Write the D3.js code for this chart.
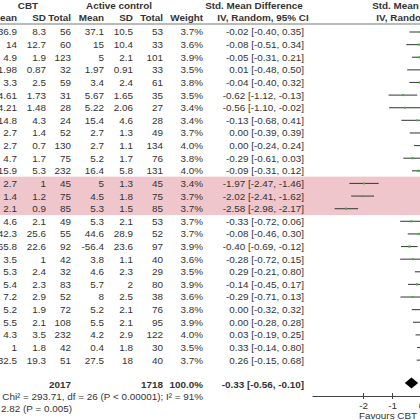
<!DOCTYPE html>
<html>
<head>
<meta charset="utf-8">
<script src="https://cdn.jsdelivr.net/npm/d3@7"></script>
<style>
  body { margin: 0; background: #fff; }
  svg { display: block; font-family: "Liberation Sans", Arial, sans-serif; }
  .num { font-size: 9.9px; fill: #333; }
  .head { font-size: 9.9px; font-weight: bold; fill: #333; }
</style>
</head>
<body>
<div id="chart"></div>
<script>
// Study data (27 studies)
var cbtMean  = [36.9, 14, 4.9, 1.98, 3.3, 4.61, 4.21, 14.8, 2.7, 2.7, 4.7, 15.9, 2.7, 1.4, 2.1, 4.6, 42.3, -65.8, 3.5, 5.3, 5.4, 7.2, 5.2, 5.5, 4.3, 1, 32.5];
var cbtSD    = [8.3, 12.7, 1.9, 0.87, 2.5, 1.73, 1.48, 4.3, 1.4, 0.7, 1.7, 5.3, 1, 1.2, 0.9, 2.1, 25.6, 22.6, 1, 2.4, 2.3, 2.9, 1.9, 2.1, 3.5, 1.8, 19.3];
var cbtTotal = [56, 60, 123, 32, 59, 31, 28, 24, 52, 130, 75, 232, 45, 75, 85, 49, 55, 92, 42, 32, 83, 52, 72, 108, 232, 42, 51];
var acMean   = [37.1, 15, 5, 1.97, 3.4, 5.67, 5.22, 15.4, 2.7, 2.7, 5.2, 16.4, 5, 4.5, 5.3, 5.3, 44.6, -56.4, 3.8, 4.6, 5.7, 8, 5.2, 5.5, 4.2, 0.4, 27.5];
var acSD     = [10.5, 10.4, 2.1, 0.91, 2.4, 1.65, 2.06, 4.6, 1.3, 1.1, 1.7, 5.8, 1.3, 1.8, 1.5, 2.1, 28.9, 23.6, 1.1, 2.3, 2, 2.5, 2.1, 2.1, 2.9, 1.8, 18];
var acTotal  = [53, 33, 101, 33, 61, 35, 27, 28, 49, 134, 76, 131, 45, 75, 85, 53, 52, 97, 40, 29, 80, 38, 76, 95, 122, 30, 40];
var weights  = [3.7, 3.6, 3.9, 3.5, 3.8, 3.5, 3.4, 3.4, 3.7, 4.0, 3.8, 4.0, 3.4, 3.7, 3.7, 3.7, 3.7, 3.9, 3.6, 3.5, 3.9, 3.6, 3.8, 3.9, 4.0, 3.5, 3.7];
var smd      = [-0.02, -0.08, -0.05, 0.01, -0.04, -0.62, -0.56, -0.13, 0.00, 0.00, -0.29, -0.09, -1.97, -2.02, -2.58, -0.33, -0.08, -0.40, -0.28, 0.29, -0.14, -0.29, 0.00, 0.00, 0.03, 0.33, 0.26];
var ciLow    = [-0.40, -0.51, -0.31, -0.48, -0.40, -1.12, -1.10, -0.68, -0.39, -0.24, -0.61, -0.31, -2.47, -2.41, -2.98, -0.72, -0.46, -0.69, -0.72, -0.21, -0.45, -0.71, -0.32, -0.28, -0.19, -0.14, -0.15];
var ciHigh   = [0.35, 0.34, 0.21, 0.50, 0.32, -0.13, -0.02, 0.41, 0.39, 0.24, 0.03, 0.12, -1.46, -1.62, -2.17, 0.06, 0.30, -0.12, 0.15, 0.80, 0.17, 0.13, 0.32, 0.28, 0.25, 0.80, 0.68];
var highlighted = [12, 13, 14];

// Pooled result
var totalCbt = 2017, totalAc = 1718, totalWeight = 100.0;
var pooled = { est: -0.33, lo: -0.56, hi: -0.10 };
var heterogeneityText = "Heterogeneity: Tau\u00b2 = 0.32; Chi\u00b2 = 293.71, df = 26 (P < 0.00001); I\u00b2 = 91%";
var overallText = "Test for overall effect: Z = 2.82 (P = 0.005)";
var axisTicks = [-2, -1, 0];

var svgWidth = 420, svgHeight = 420;

// Column right edges
var col = { cbtMean: 17, cbtSD: 46, cbtTotal: 71, acMean: 104, acSD: 133, acTotal: 163, weight: 203, ci: 304 };

var firstRow = 32, rowStep = 12.62;
var rowY = function(i) { return firstRow + i * rowStep; };
var totalY = 384.5;

var svg = d3.select("#chart").append("svg")
  .attr("width", svgWidth)
  .attr("height", svgHeight);

// highlight band behind the three flagged studies
svg.append("rect")
  .attr("x", 0)
  .attr("y", rowY(d3.min(highlighted)) - 6.8)
  .attr("width", svgWidth)
  .attr("height", (d3.max(highlighted) - d3.min(highlighted)) * rowStep + 13.2)
  .attr("fill", "#efc6cb");

// headers
svg.append("text").attr("class", "head").attr("x", 28).attr("y", 8.5).attr("text-anchor", "middle").text("CBT");
svg.append("text").attr("class", "head").attr("x", 119).attr("y", 8.5).attr("text-anchor", "middle").text("Active control");
svg.append("text").attr("class", "head").attr("x", 254).attr("y", 8.5).attr("text-anchor", "middle").text("Std. Mean Difference");
svg.append("text").attr("class", "head").attr("x", 421).attr("y", 8.5).attr("text-anchor", "middle").text("Std. Mean Difference");

var subHeads = [["Mean", col.cbtMean], ["SD", col.cbtSD], ["Total", col.cbtTotal], ["Mean", col.acMean],
                ["SD", col.acSD], ["Total", col.acTotal], ["Weight", col.weight]];
svg.selectAll("text.sub")
  .data(subHeads)
  .enter()
  .append("text")
  .attr("class", "head sub")
  .attr("x", d => d[1])
  .attr("y", 20.5)
  .attr("text-anchor", "end")
  .text(d => d[0]);
svg.append("text").attr("class", "head").attr("x", 263).attr("y", 20.5).attr("text-anchor", "middle").text("IV, Random, 95% CI");
svg.append("text").attr("class", "head").attr("x", 422).attr("y", 20.5).attr("text-anchor", "middle").text("IV, Random, 95% CI");

svg.append("line")
  .attr("x1", 0).attr("x2", svgWidth)
  .attr("y1", 24).attr("y2", 24)
  .attr("stroke", "#777").attr("stroke-width", 1);

// study rows
var columns = [
  [cbtMean, col.cbtMean], [cbtSD, col.cbtSD], [cbtTotal, col.cbtTotal],
  [acMean, col.acMean], [acSD, col.acSD], [acTotal, col.acTotal]
];
columns.forEach(function(c) {
  svg.append("g").selectAll("text")
    .data(c[0])
    .enter()
    .append("text")
    .attr("class", "num")
    .attr("x", c[1])
    .attr("y", (d, i) => rowY(i))
    .attr("dy", "0.35em")
    .attr("text-anchor", "end")
    .text(d => String(d));
});

svg.append("g").selectAll("text")
  .data(weights)
  .enter()
  .append("text")
  .attr("class", "num")
  .attr("x", col.weight)
  .attr("y", (d, i) => rowY(i))
  .attr("dy", "0.35em")
  .attr("text-anchor", "end")
  .text(d => d.toFixed(1) + "%");

var f2 = d => d.toFixed(2);
svg.append("g").selectAll("text")
  .data(smd)
  .enter()
  .append("text")
  .attr("class", "num")
  .attr("x", col.ci)
  .attr("y", (d, i) => rowY(i))
  .attr("dy", "0.35em")
  .attr("text-anchor", "end")
  .text((d, i) => f2(d) + " [" + f2(ciLow[i]) + ", " + f2(ciHigh[i]) + "]");

// total row
svg.append("text").attr("class", "head").attr("x", col.cbtTotal).attr("y", totalY).attr("dy", "0.35em")
  .attr("text-anchor", "end").text(totalCbt);
svg.append("text").attr("class", "head").attr("x", col.acTotal).attr("y", totalY).attr("dy", "0.35em")
  .attr("text-anchor", "end").text(totalAc);
svg.append("text").attr("class", "head").attr("x", col.weight).attr("y", totalY).attr("dy", "0.35em")
  .attr("text-anchor", "end").text(totalWeight.toFixed(1) + "%");
svg.append("text").attr("class", "head").attr("x", col.ci).attr("y", totalY).attr("dy", "0.35em")
  .attr("text-anchor", "end").text(f2(pooled.est) + " [" + f2(pooled.lo) + ", " + f2(pooled.hi) + "]");

// heterogeneity and overall effect lines (left part runs off the crop)
svg.append("text").attr("class", "num").attr("x", col.weight).attr("y", 396.5).attr("dy", "0.35em")
  .attr("text-anchor", "end").text(heterogeneityText);
svg.append("text").attr("class", "num").attr("x", 72).attr("y", 408.3).attr("dy", "0.35em")
  .attr("text-anchor", "end").text(overallText);

// forest plot
var xScale = d3.scaleLinear()
  .domain([-3.76, 0.5])
  .range([312, 312 + 4.26 * 29]);

var plot = svg.append("g");

plot.selectAll("line.ci")
  .data(smd)
  .enter()
  .append("line")
  .attr("class", "ci")
  .attr("x1", (d, i) => xScale(ciLow[i]))
  .attr("x2", (d, i) => xScale(ciHigh[i]))
  .attr("y1", (d, i) => rowY(i))
  .attr("y2", (d, i) => rowY(i))
  .attr("stroke", "#444")
  .attr("stroke-width", 1.1);

plot.selectAll("rect.est")
  .data(smd)
  .enter()
  .append("rect")
  .attr("class", "est")
  .attr("x", (d, i) => xScale(d) - weights[i] * 0.28)
  .attr("y", (d, i) => rowY(i) - weights[i] * 0.28)
  .attr("width", (d, i) => weights[i] * 0.56)
  .attr("height", (d, i) => weights[i] * 0.56)
  .attr("fill", "#4aa84a");

// pooled diamond
var dy = 5.6, dcy = 383;
plot.append("polygon")
  .attr("points", [
    [xScale(pooled.lo), dcy], [xScale(pooled.est), dcy - dy],
    [xScale(pooled.hi), dcy], [xScale(pooled.est), dcy + dy]
  ].map(p => p.join(",")).join(" "))
  .attr("fill", "#000");

// axis
var axis = svg.append("g")
  .attr("transform", "translate(0, 396)")
  .call(d3.axisBottom(xScale).tickValues(axisTicks).tickSizeOuter(0).tickFormat(d => String(d)));
axis.select(".domain").attr("stroke", "#444");
axis.selectAll(".tick line").attr("y1", -3).attr("y2", 3).attr("stroke", "#444");
axis.selectAll(".tick text")
  .attr("y", 6)
  .style("font-family", "'Liberation Sans', Arial, sans-serif")
  .style("font-size", "9.9px")
  .attr("fill", "#333");

svg.append("text")
  .attr("class", "num")
  .attr("x", 388)
  .attr("y", 419)
  .attr("text-anchor", "middle")
  .text("Favours CBT");
</script>
</body>
</html>
